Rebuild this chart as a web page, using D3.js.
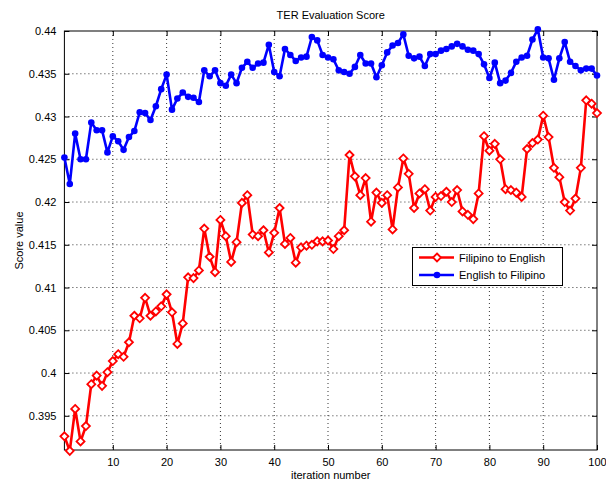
<!DOCTYPE html>
<html><head><meta charset="utf-8">
<script src="https://cdn.jsdelivr.net/npm/d3@7"></script>
<style>
body{margin:0;background:#fff;}
text{font-family:"Liberation Sans",Arial,Helvetica,sans-serif;}
</style></head>
<body><svg id="chart" width="606" height="481"></svg>
<script>
const iterations = d3.range(1, 101);
const filipinoToEnglish = [
0.3926,0.3909,0.3958,0.3920,0.3938,0.3987,0.3997,0.3985,0.4001,0.4014,
0.4022,0.4019,0.4036,0.4067,0.4064,0.4088,0.4067,0.4072,0.4078,0.4092,
0.4071,0.4034,0.4058,0.4112,0.4111,0.4120,0.4169,0.4136,0.4118,0.4179,
0.4160,0.4130,0.4153,0.4199,0.4208,0.4162,0.4160,0.4167,0.4141,0.4164,
0.4193,0.4151,0.4158,0.4129,0.4147,0.4149,0.4150,0.4154,0.4154,0.4155,
0.4145,0.4160,0.4167,0.4255,0.4230,0.4208,0.4228,0.4177,0.4211,0.4199,
0.4208,0.4168,0.4217,0.4251,0.4233,0.4193,0.4210,0.4215,0.4190,0.4206,
0.4207,0.4212,0.4200,0.4214,0.4189,0.4185,0.4180,0.4210,0.4277,0.4260,
0.4268,0.4250,0.4215,0.4214,0.4211,0.4206,0.4262,0.4269,0.4273,0.4301,
0.4276,0.4240,0.4229,0.4200,0.4190,0.4204,0.4240,0.4319,0.4315,0.4304];
const englishToFilipino = [
0.4252,0.4221,0.4280,0.4250,0.4250,0.4293,0.4284,0.4284,0.4258,0.4277,
0.4271,0.4261,0.4276,0.4283,0.4305,0.4304,0.4296,0.4312,0.4332,0.4349,
0.4308,0.4321,0.4328,0.4323,0.4322,0.4317,0.4354,0.4347,0.4354,0.4339,
0.4336,0.4349,0.4339,0.4357,0.4364,0.4357,0.4362,0.4363,0.4384,0.4352,
0.4347,0.4379,0.4372,0.4365,0.4369,0.4370,0.4393,0.4389,0.4372,0.4369,
0.4367,0.4354,0.4352,0.4350,0.4358,0.4372,0.4362,0.4362,0.4346,0.4360,
0.4375,0.4383,0.4386,0.4396,0.4371,0.4368,0.4370,0.4359,0.4373,0.4373,
0.4377,0.4379,0.4382,0.4385,0.4382,0.4378,0.4377,0.4373,0.4361,0.4345,
0.4363,0.4339,0.4342,0.4351,0.4364,0.4369,0.4371,0.4390,0.4402,0.4369,
0.4368,0.4343,0.4368,0.4387,0.4364,0.4359,0.4354,0.4356,0.4356,0.4348];
const xTicks = [10,20,30,40,50,60,70,80,90,100];
const yTicks = [0.395,0.4,0.405,0.41,0.415,0.42,0.425,0.43,0.435,0.44];
const seriesNames = ["Filipino to English","English to Filipino"];
const titleText = "TER Evaluation Score";
const xLabel = "iteration number";
const yLabel = "Score value";

const L = 64.4, R = 597, T = 31, B = 450;
const svg = d3.select("#chart");
const x = d3.scaleLinear().domain([1,100]).range([L,R]);
const y = d3.scaleLinear().domain([0.391,0.44]).range([B,T]);

// grid
const grid = svg.append("g").attr("stroke","#000").attr("stroke-width",0.8).attr("stroke-dasharray","1,3");
xTicks.forEach(t=>{ if(t<100) grid.append("line").attr("x1",x(t)).attr("x2",x(t)).attr("y1",T).attr("y2",B);});
yTicks.forEach(t=>{ if(t<0.44) grid.append("line").attr("x1",L).attr("x2",R).attr("y1",y(t)).attr("y2",y(t));});

// axes (inward ticks)
const fmt = d => String(+d.toFixed(3));
const axB = svg.append("g").attr("transform",`translate(0,${B})`)
  .call(d3.axisBottom(x).tickValues(xTicks).tickSizeInner(-5).tickSizeOuter(0).tickPadding(8));
const axT = svg.append("g").attr("transform",`translate(0,${T})`)
  .call(d3.axisTop(x).tickValues(xTicks).tickSizeInner(-5).tickSizeOuter(0).tickFormat(""));
const axLft = svg.append("g").attr("transform",`translate(${L},0)`)
  .call(d3.axisLeft(y).tickValues(yTicks).tickSizeInner(-5).tickSizeOuter(0).tickPadding(8).tickFormat(fmt));
const axRt = svg.append("g").attr("transform",`translate(${R},0)`)
  .call(d3.axisRight(y).tickValues(yTicks).tickSizeInner(-5).tickSizeOuter(0).tickFormat(""));
[axB,axT,axLft,axRt].forEach(a=>{
  a.select(".domain").remove();
  a.selectAll("line").attr("stroke","#000");
  a.selectAll("text").attr("font-size","11px").attr("fill","#000")
   .attr("font-family","'Liberation Sans',Arial,sans-serif");
});
svg.append("rect").attr("x",L).attr("y",T).attr("width",R-L).attr("height",B-T)
  .attr("fill","none").attr("stroke","#000").attr("stroke-width",1);

// lines
const line = d3.line().x((d,i)=>x(iterations[i])).y(d=>y(d));
svg.append("path").datum(filipinoToEnglish).attr("d",line)
  .attr("fill","none").attr("stroke","#ff0000").attr("stroke-width",2.6).attr("stroke-linejoin","round");
const diamond = (cx,cy,s)=>`M${cx},${cy-s}L${cx+s},${cy}L${cx},${cy+s}L${cx-s},${cy}Z`;
svg.append("g").selectAll("path").data(filipinoToEnglish).join("path")
  .attr("d",(d,i)=>diamond(x(iterations[i]),y(d),4))
  .attr("fill","#fff").attr("stroke","#ff0000").attr("stroke-width",1.8);

svg.append("path").datum(englishToFilipino).attr("d",line)
  .attr("fill","none").attr("stroke","#0000ff").attr("stroke-width",2.6).attr("stroke-linejoin","round");
svg.append("g").selectAll("circle").data(englishToFilipino).join("circle")
  .attr("cx",(d,i)=>x(iterations[i])).attr("cy",d=>y(d)).attr("r",3.3)
  .attr("fill","#0000ff");

// title & labels
svg.append("text").attr("x",(L+R)/2).attr("y",19).attr("text-anchor","middle")
  .attr("font-size","11px").text(titleText);
svg.append("text").attr("x",(L+R)/2).attr("y",479).attr("text-anchor","middle")
  .attr("font-size","11px").text(xLabel);
svg.append("text").attr("transform",`translate(23,${(T+B)/2}) rotate(-90)`).attr("text-anchor","middle")
  .attr("font-size","11px").text(yLabel);

// legend
const lg = svg.append("g");
lg.append("rect").attr("x",412.5).attr("y",247.5).attr("width",150).attr("height",38)
  .attr("fill","#fff").attr("stroke","#000").attr("stroke-width",1);
const rows = [
  {name:seriesNames[0], color:"#ff0000", type:"d", yy:257.5},
  {name:seriesNames[1], color:"#0000ff", type:"c", yy:275}
];
rows.forEach(r=>{
  lg.append("line").attr("x1",419).attr("x2",454).attr("y1",r.yy).attr("y2",r.yy)
    .attr("stroke",r.color).attr("stroke-width",2.6);
  if(r.type==="d") lg.append("path").attr("d",diamond(437,r.yy,4)).attr("fill","#fff").attr("stroke",r.color).attr("stroke-width",1.8);
  else lg.append("circle").attr("cx",437).attr("cy",r.yy).attr("r",3.3).attr("fill",r.color);
  lg.append("text").attr("x",459).attr("y",r.yy+4).attr("font-size","11px").text(r.name);
});
</script></body></html>
